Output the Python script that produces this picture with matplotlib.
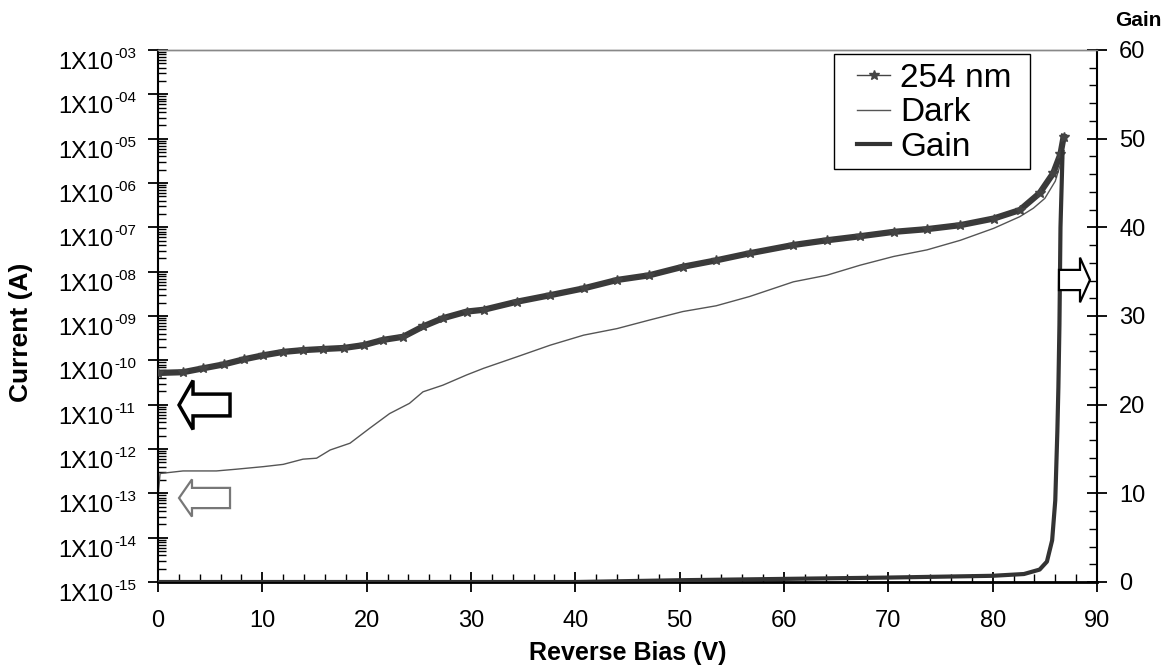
import numpy as np
import matplotlib
matplotlib.use('Agg')
import matplotlib.pyplot as plt
from matplotlib.ticker import FixedLocator, LogLocator, MultipleLocator, NullFormatter
from matplotlib.lines import Line2D
from matplotlib.patches import Polygon, Rectangle
from matplotlib.transforms import blended_transform_factory, offset_copy

plt.rcParams['font.family'] = ['Liberation Sans', 'DejaVu Sans']

# photo current under 254 nm illumination (A)
v_254 = [0.0, 2.4, 4.3, 6.3, 8.2, 10.1, 12.0, 13.9, 15.8, 17.8, 19.7, 21.6, 23.5, 25.4,
         27.3, 29.6, 31.2, 34.4, 37.6, 40.8, 44.0, 47.1, 50.3, 53.5, 56.7, 60.9, 64.1,
         67.3, 70.5, 73.7, 76.9, 80.1, 82.6, 84.5, 85.8, 86.5, 86.8]
i_254 = [5.2e-11, 5.4e-11, 6.6e-11, 8.1e-11, 1.05e-10, 1.3e-10, 1.55e-10, 1.7e-10, 1.8e-10,
         1.9e-10, 2.2e-10, 2.9e-10, 3.4e-10, 5.8e-10, 8.9e-10, 1.26e-9, 1.38e-9, 2.1e-9,
         2.95e-9, 4.2e-9, 6.5e-9, 8.3e-9, 1.29e-8, 1.8e-8, 2.6e-8, 4.0e-8, 5.1e-8, 6.3e-8,
         7.9e-8, 9.1e-8, 1.12e-7, 1.58e-7, 2.45e-7, 5.9e-7, 1.66e-6, 4.5e-6, 1.1e-5]

# dark current (A)
v_dark = [0.0, 0.2, 2.4, 5.6, 7.5, 10.1, 12.0, 13.9, 15.2, 16.5, 18.4, 20.3, 22.2, 24.1,
          25.4, 27.3, 29.6, 31.2, 34.4, 37.6, 40.8, 44.0, 47.1, 50.3, 53.5, 56.7, 60.9,
          64.1, 67.3, 70.5, 73.7, 76.9, 80.1, 82.6, 83.9, 85.0, 86.0, 86.6]
i_dark = [8.3e-14, 2.8e-13, 3.2e-13, 3.2e-13, 3.5e-13, 4.0e-13, 4.5e-13, 5.9e-13, 6.2e-13,
          9.5e-13, 1.35e-12, 2.95e-12, 6.3e-12, 1.07e-11, 1.95e-11, 2.75e-11, 4.7e-11,
          6.6e-11, 1.2e-10, 2.2e-10, 3.7e-10, 5.2e-10, 8.1e-10, 1.26e-9, 1.7e-9, 2.75e-9,
          5.9e-9, 8.3e-9, 1.4e-8, 2.2e-8, 3.1e-8, 5.1e-8, 9.5e-8, 1.74e-7, 2.7e-7, 4.5e-7,
          1.1e-6, 3.2e-6]

# gain (right axis)
v_gain = [0.0, 40.0, 45.0, 50.0, 60.0, 70.0, 80.0, 83.0, 84.5, 85.2, 85.7, 86.0, 86.2,
          86.3, 86.4, 86.5, 86.7]
gain = [0.0, 0.0, 0.1, 0.2, 0.35, 0.5, 0.7, 0.9, 1.4, 2.3, 4.7, 9.2, 17.0, 22.0, 29.0,
        40.0, 48.5]

# left axis decades shown as 1X10^-NN
exponents = list(range(3, 16))

fig = plt.figure(figsize=(11.63, 6.71), dpi=100)
ax = fig.add_axes([158 / 1163, 89 / 671, 939 / 1163, 532 / 671])
ax2 = ax.twinx()

ax.plot(v_254, i_254, color='#3a3a3a', linewidth=4.5, zorder=3)
ax.plot(v_254, i_254, linestyle='none', marker='*', markersize=7, color='#444444', zorder=4)
ax.plot(v_dark, i_dark, color='#555555', linewidth=1.0, zorder=2)
ax2.plot(v_gain, gain, color='#333333', linewidth=3.0, zorder=3)

ax.set_yscale('log')
ax.set_ylim(1e-15, 1e-3)
ax.set_xlim(0, 90)
ax2.set_ylim(0, 60)

ax.yaxis.set_major_locator(FixedLocator([10.0 ** -k for k in exponents]))
ax.yaxis.set_minor_locator(LogLocator(base=10, subs=np.arange(2, 10), numticks=30))
ax.yaxis.set_major_formatter(NullFormatter())
ax.yaxis.set_minor_formatter(NullFormatter())
ax.xaxis.set_major_locator(MultipleLocator(10))
ax.xaxis.set_minor_locator(MultipleLocator(2))
ax2.yaxis.set_major_locator(MultipleLocator(10))
ax2.yaxis.set_minor_locator(MultipleLocator(2))

for a in (ax, ax2):
    a.tick_params(which='major', direction='inout', length=14, width=1.3,
                  labelsize=17, colors='black')
    a.tick_params(which='minor', direction='in', length=6, width=1.0)
    a.spines['top'].set_color('#888888')
    a.spines['top'].set_linewidth(1.0)
ax.tick_params(axis='x', pad=13)
ax2.tick_params(axis='y', pad=9)
ax.spines['left'].set_linewidth(1.5)
ax.spines['bottom'].set_linewidth(2.0)
ax2.spines['right'].set_linewidth(1.5)
ax2.spines['bottom'].set_visible(False)
ax2.spines['left'].set_visible(False)
ax.spines['right'].set_visible(False)

# left tick labels written by hand so the exponent is a small raised hyphenated number
ytrans = blended_transform_factory(ax.transAxes, ax.transData)
base_tr = offset_copy(ytrans, fig=fig, x=0, y=-13, units='dots')
sup_tr = offset_copy(ytrans, fig=fig, x=1, y=-4, units='dots')
for k in exponents:
    ax.text(-0.0479, 10.0 ** -k, '1X10', transform=base_tr, ha='right', va='center',
            fontsize=17, clip_on=False)
    ax.text(-0.0479, 10.0 ** -k, '-%02d' % k, transform=sup_tr, ha='left', va='center',
            fontsize=11, clip_on=False)

ax.set_xlabel('Reverse Bias (V)', fontsize=18, fontweight='bold')
ax.xaxis.set_label_coords(0.5, -0.111)
ax.set_ylabel('Current (A)', fontsize=19, fontweight='bold')
ax.yaxis.set_label_coords(-0.133, 0.47)
fig.text(0.9785, 0.969, 'Gain', fontsize=15, fontweight='bold', ha='center', va='center')


def block_arrow(axes, tip_x, tip_y, base_x, end_x, head_h, body_h, **kw):
    # outlined block arrow given in axes fraction coordinates
    pts = [(tip_x, tip_y), (base_x, tip_y + head_h / 2), (base_x, tip_y + body_h / 2),
           (end_x, tip_y + body_h / 2), (end_x, tip_y - body_h / 2),
           (base_x, tip_y - body_h / 2), (base_x, tip_y - head_h / 2)]
    axes.add_patch(Polygon(pts, closed=True, transform=axes.transAxes, facecolor='white',
                           clip_on=False, zorder=5, **kw))


# arrows pointing to the axis each curve belongs to
block_arrow(ax2, 0.0224, 0.3327, 0.0373, 0.0767, 0.092, 0.041,
            edgecolor='black', linewidth=2.5)
block_arrow(ax2, 0.0224, 0.1579, 0.0362, 0.0767, 0.070, 0.038,
            edgecolor='#777777', linewidth=1.6)
block_arrow(ax2, 0.9925, 0.5677, 0.9819, 0.9595, 0.084, 0.038,
            edgecolor='black', linewidth=1.6)

# legend box
ax2.add_patch(Rectangle((0.7199, 0.7754), 0.2087, 0.2162, transform=ax2.transAxes,
                        facecolor='white', edgecolor='black', linewidth=1.0, zorder=8))
handles = [Line2D([], [], color='#444444', linewidth=1.0, marker='*', markersize=7),
           Line2D([], [], color='#555555', linewidth=1.0),
           Line2D([], [], color='#333333', linewidth=3.0)]
leg = ax2.legend(handles, ['254 nm', 'Dark', 'Gain'], loc='upper left',
                 bbox_to_anchor=(0.7444, 0.9756), borderaxespad=0, borderpad=0,
                 fontsize=24, frameon=False, handlelength=1.0, handletextpad=0.3,
                 labelspacing=0.1)
leg.set_zorder(10)

fig.savefig('out.png', dpi=100)
